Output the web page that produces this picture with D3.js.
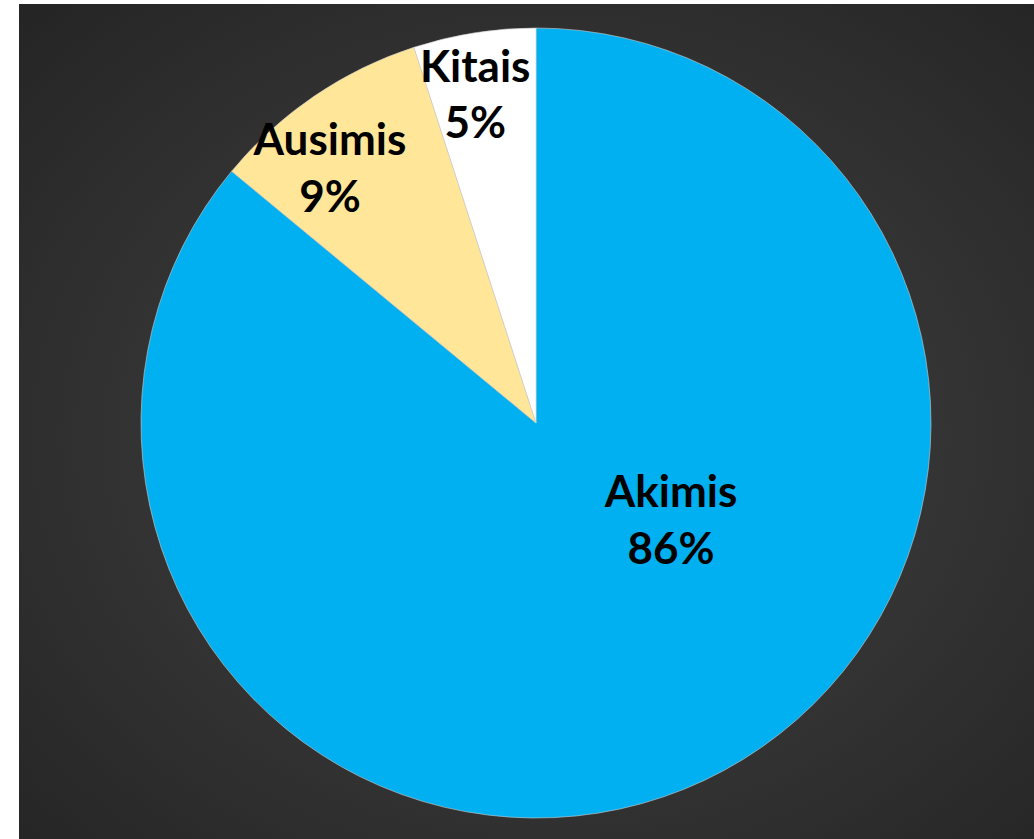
<!DOCTYPE html>
<html>
<head>
<meta charset="utf-8">
<script src="https://cdn.jsdelivr.net/npm/d3@7"></script>
<style>
  html, body { margin: 0; padding: 0; background: #fff; }
  svg { display: block; }
</style>
</head>
<body>
<div id="chart"></div>
<script>
// data
const categories = ['Akimis', 'Ausimis', 'Kitais'];
const shares = [86, 9, 5];
const sliceColors = ['#00B0F0', '#FFE699', '#FFFFFF'];

const W = 1034, H = 839;
const cx = 536, cy = 423, radius = 395;

// label anchors in polar form (degrees clockwise from 12 o'clock, fraction of radius)
const labelPolar = {
    Akimis: [129.8, 0.445],
    Ausimis: [319.3, 0.80],
    Kitais: [349, 0.807]
};

const svg = d3.select('#chart').append('svg')
    .attr('width', W)
    .attr('height', H);

const defs = svg.append('defs');
const grad = defs.append('radialGradient')
    .attr('id', 'bg')
    .attr('cx', '52%').attr('cy', '52%').attr('r', '72%');
grad.append('stop').attr('offset', '0%').attr('stop-color', '#454545');
grad.append('stop').attr('offset', '100%').attr('stop-color', '#252525');

svg.append('rect')
    .attr('x', 19).attr('y', 4)
    .attr('width', W - 19).attr('height', H - 4)
    .attr('fill', 'url(#bg)');

const data = categories.map((c, i) => ({ name: c, value: shares[i], color: sliceColors[i] }));

const pie = d3.pie()
    .sort(null)
    .value(d => d.value);

const arc = d3.arc()
    .innerRadius(0)
    .outerRadius(radius);

const g = svg.append('g')
    .attr('transform', 'translate(' + cx + ',' + cy + ')');

const arcs = pie(data);

g.selectAll('path.slice')
    .data(arcs)
    .enter()
    .append('path')
    .attr('class', 'slice')
    .attr('d', arc)
    .attr('fill', d => d.data.color)
    .attr('stroke', '#cfcfcf')
    .attr('stroke-width', 0.6);

// labels
const total = d3.sum(shares);
const labels = g.selectAll('text.label')
    .data(arcs)
    .enter()
    .append('text')
    .attr('class', 'label')
    .attr('text-anchor', 'middle')
    .style('font-family', 'Lato, "Open Sans", sans-serif')
    .style('font-weight', 'bold')
    .style('font-size', '44px')
    .attr('fill', '#000')
    .attr('transform', d => {
        const p = labelPolar[d.data.name];
        const a = p[0] * Math.PI / 180;
        const r = p[1] * radius;
        return 'translate(' + (Math.sin(a) * r) + ',' + (-Math.cos(a) * r) + ')';
    });

labels.append('tspan')
    .attr('x', 0)
    .attr('dy', '-0.64em')
    .text(d => d.data.name);

labels.append('tspan')
    .attr('x', 0)
    .attr('dy', '1.28em')
    .text(d => Math.round(d.data.value / total * 100) + '%');
</script>
</body>
</html>
